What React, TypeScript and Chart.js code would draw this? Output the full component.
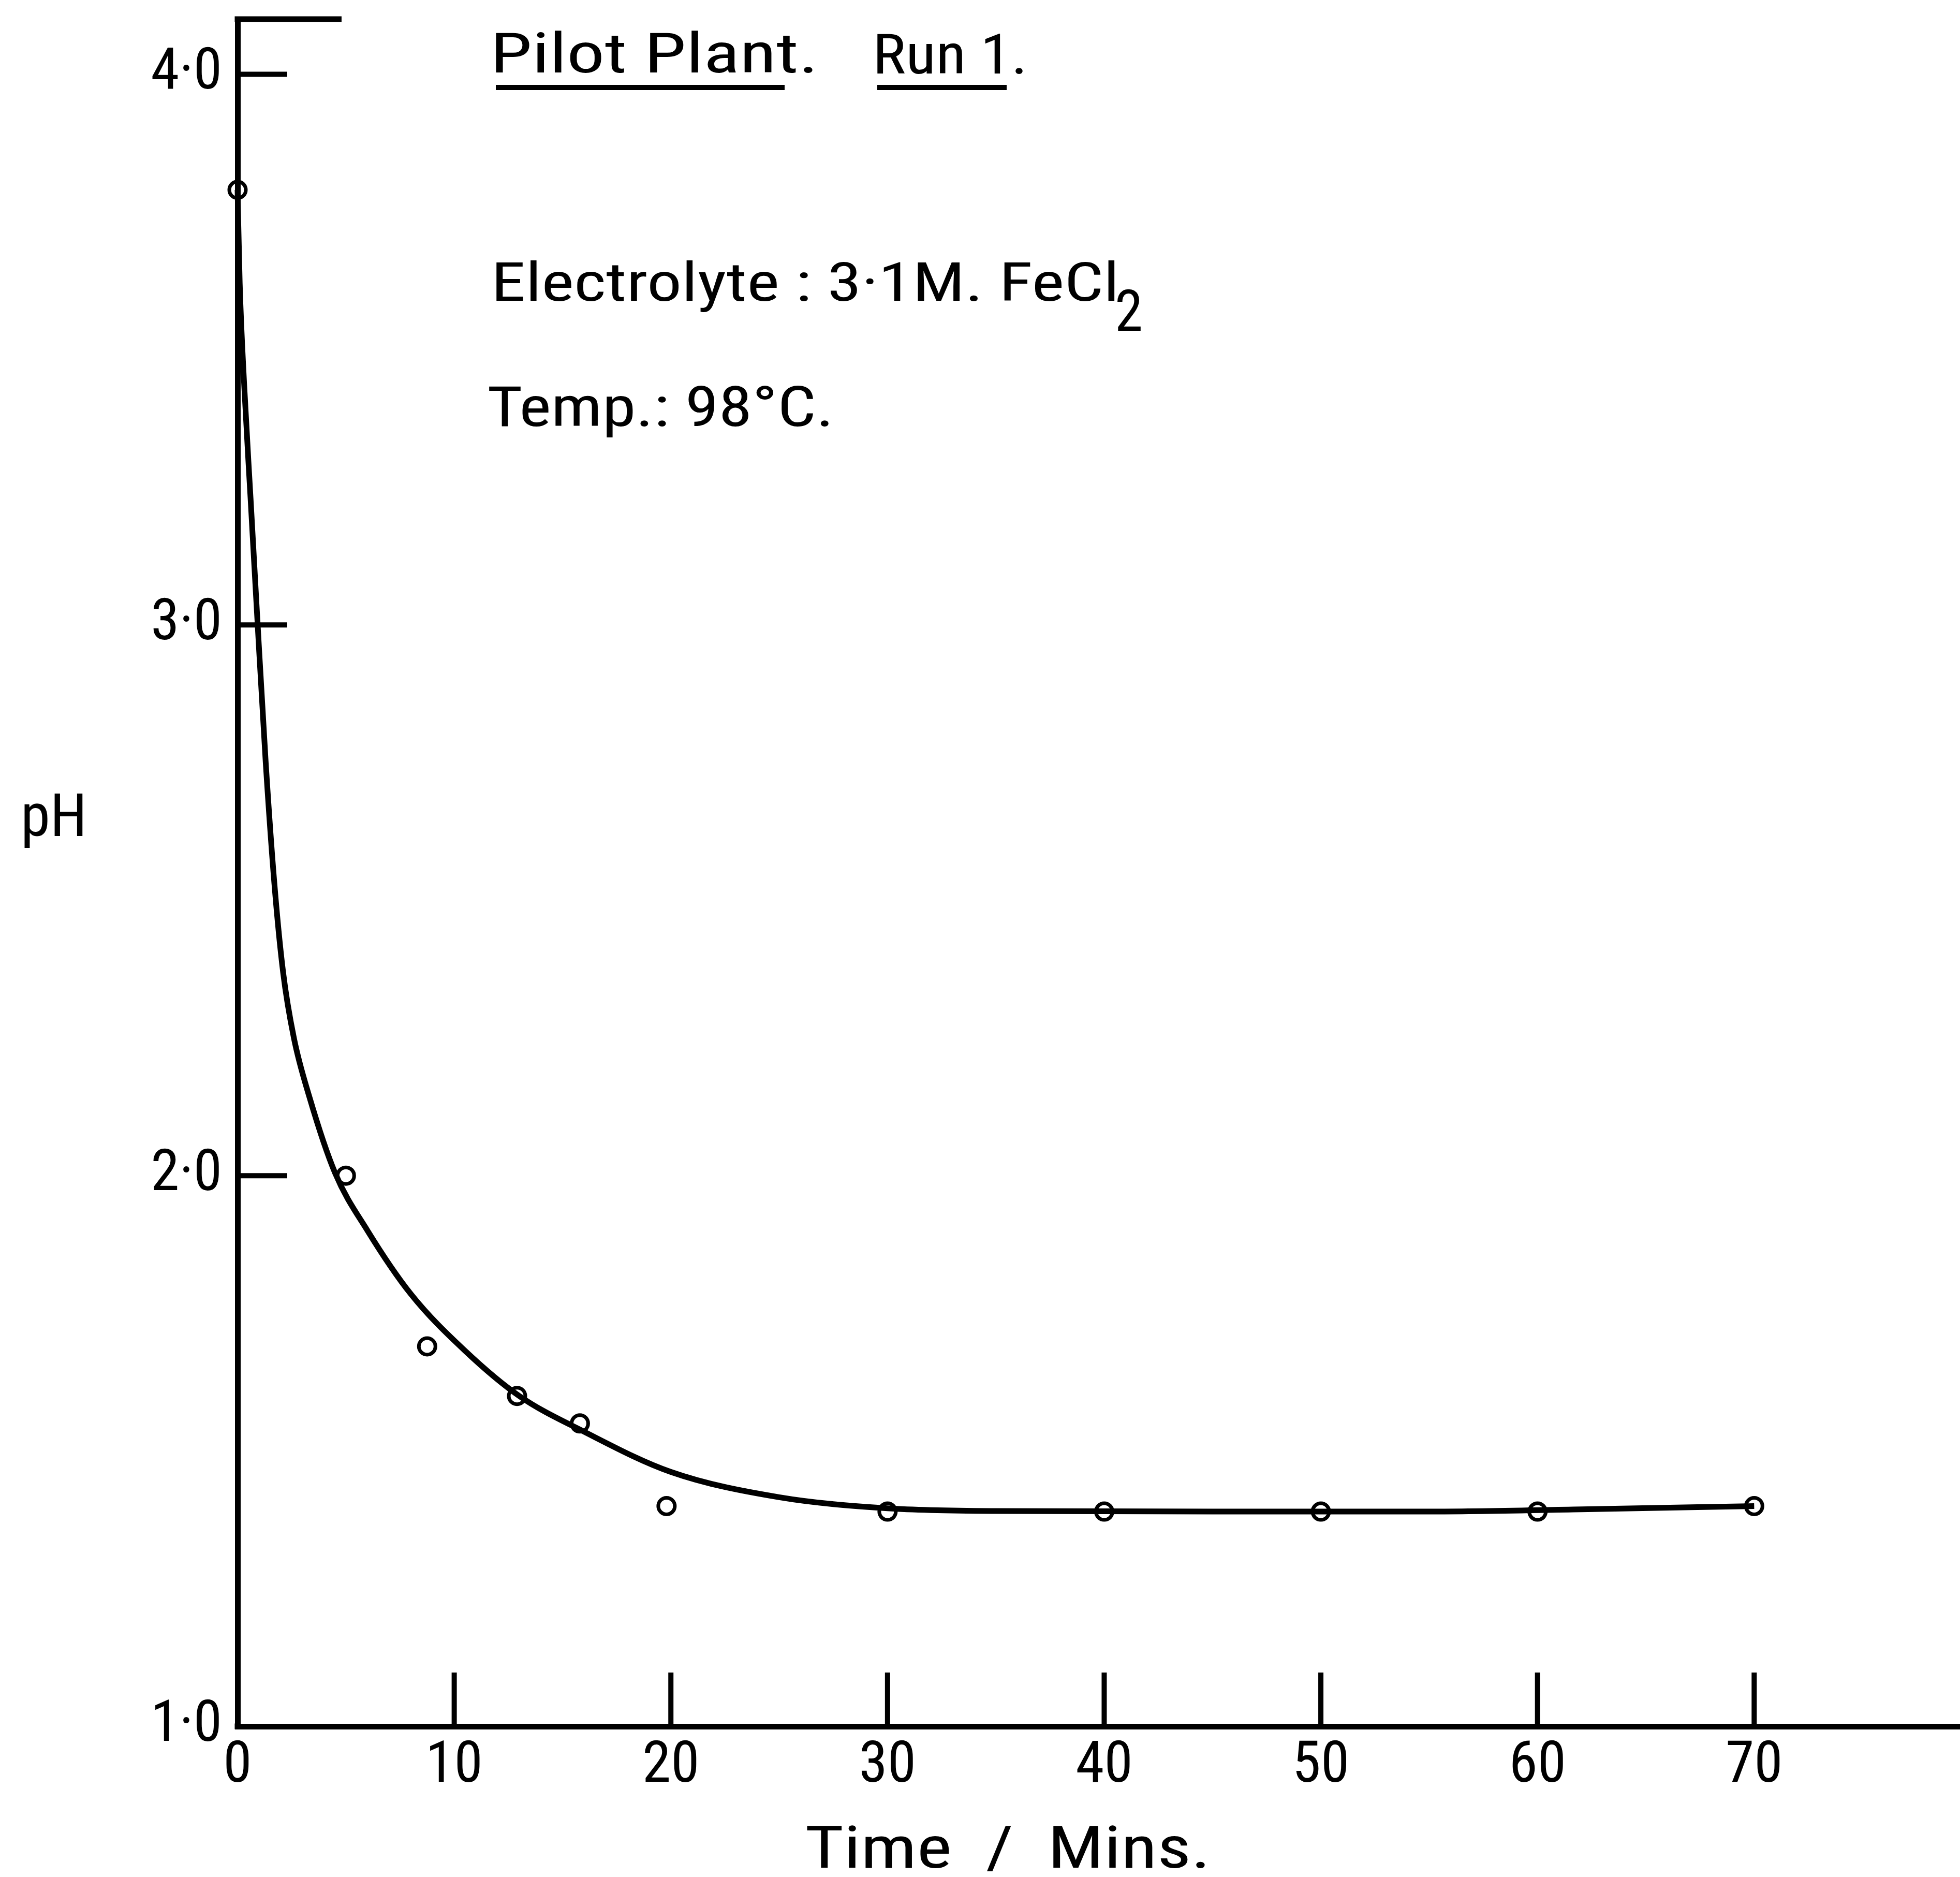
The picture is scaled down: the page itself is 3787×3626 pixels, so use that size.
import React, { useEffect, useRef } from 'react';
import { Chart, registerables } from 'chart.js';

Chart.register(...registerables);

// ---------------- data ----------------
const sampleTimes = [0, 5, 8.75, 12.9, 15.8, 19.8, 30, 40, 50, 60, 70];
const samplePH = [3.79, 2.0, 1.69, 1.6, 1.55, 1.4, 1.39, 1.39, 1.39, 1.39, 1.4];

const curveTimes = [0, 0.1, 0.3, 0.6, 0.9, 1.3, 1.7, 2.1, 2.6, 3.3, 4.5, 6.0, 8.0, 10.5, 13, 16, 20, 25, 30, 35, 45, 55, 62, 70];
const curvePH = [3.79, 3.62, 3.44, 3.23, 3.02, 2.75, 2.53, 2.37, 2.25, 2.145, 2.005, 1.9, 1.785, 1.682, 1.6, 1.535, 1.462, 1.416, 1.396, 1.391, 1.39, 1.39, 1.394, 1.4];

const xTickValues = [0, 10, 20, 30, 40, 50, 60, 70];
const xTickLabels = ['0', '10', '20', '30', '40', '50', '60', '70'];
const yTickValues = [1, 2, 3, 4];
const yTickLabels = ['1·0', '2·0', '3·0', '4·0'];

const titleText = 'Pilot Plant.';
const runText = 'Run 1.';
const electrolyteText = 'Electrolyte : 3·1M. FeCl';
const electrolyteSub = '2';
const tempText = 'Temp.: 98°C.';
const yAxisTitle = 'pH';
const xAxisTitle = 'Time  /  Mins.';

// ---------------- layout / style ----------------
const W = 3787;
const H = 3626;
const AREA_LEFT = 459;
const AREA_TOP = 37;
const AREA_BOTTOM = 3335;
const X_MIN = 0;
const X_MAX = 79.5;
const Y_MIN = 1;
const Y_MAX = 4.1;
const INK = '#000000';
const FONT = "'Roboto Condensed', 'DejaVu Sans Condensed', 'DejaVu Sans', sans-serif";

type TextItem = { text: string; x: number; y: number; w: number; size: number; underline?: { x2: number; y: number } };

const textLayout: TextItem[] = [
  { text: titleText, x: 958, y: 140, w: 612, size: 108, underline: { x2: 1516, y: 169 } },
  { text: runText, x: 1695, y: 142, w: 281, size: 108, underline: { x2: 1945, y: 169 } },
  { text: electrolyteText, x: 958, y: 581, w: 1196, size: 104 },
  { text: electrolyteSub, x: 2159, y: 639, w: 45, size: 112 },
  { text: tempText, x: 945, y: 823, w: 656, size: 108 },
  { text: yAxisTitle, x: 47, y: 1615, w: 113, size: 115 },
  { text: xAxisTitle, x: 1559, y: 3608, w: 769, size: 113 },
];

const decorPlugin = {
  id: 'decor',
  afterDraw(chart: any) {
    const { ctx, chartArea, scales } = chart;
    const xs = scales.x;
    const ys = scales.y;
    const line = (x1: number, y1: number, x2: number, y2: number) => {
      ctx.beginPath();
      ctx.moveTo(x1, y1);
      ctx.lineTo(x2, y2);
      ctx.stroke();
    };
    ctx.save();
    ctx.strokeStyle = INK;
    ctx.fillStyle = INK;
    ctx.lineCap = 'butt';
    // inward tick marks
    ctx.lineWidth = 10;
    for (const v of yTickValues) {
      if (v === Y_MIN) continue;
      const py = ys.getPixelForValue(v);
      line(chartArea.left, py, chartArea.left + 96, py);
    }
    for (const v of xTickValues) {
      if (v === X_MIN) continue;
      const px = xs.getPixelForValue(v);
      line(px, chartArea.bottom, px, chartArea.bottom - 104);
    }
    // top stub of the frame
    ctx.lineWidth = 11;
    line(chartArea.left - 5.5, chartArea.top, xs.getPixelForValue(4.8), chartArea.top);
    ctx.fillRect(chartArea.left - 5.5, chartArea.bottom - 5.5, 11, 11);
    // annotation texts
    ctx.textAlign = 'left';
    ctx.textBaseline = 'alphabetic';
    for (const t of textLayout) {
      ctx.font = `${t.size}px ${FONT}`;
      const m = ctx.measureText(t.text);
      const ink = m.actualBoundingBoxLeft + m.actualBoundingBoxRight;
      const sx = ink > 0 ? t.w / ink : 1;
      ctx.save();
      ctx.translate(t.x, t.y);
      ctx.scale(sx, 1);
      ctx.fillText(t.text, m.actualBoundingBoxLeft, 0);
      ctx.restore();
      if (t.underline) {
        ctx.lineWidth = 10;
        line(t.x, t.underline.y, t.underline.x2, t.underline.y);
      }
    }
    ctx.restore();
  },
};

const zeroPadding = (s: any) => {
  s.paddingTop = 0;
  s.paddingBottom = 0;
  s.paddingLeft = 0;
  s.paddingRight = 0;
};

export default function App() {
  const canvasRef = useRef<HTMLCanvasElement | null>(null);

  useEffect(() => {
    const canvas = canvasRef.current;
    if (!canvas) return;
    const chart = new Chart(canvas, {
      type: 'scatter',
      data: {
        datasets: [
          {
            label: 'fitted curve',
            data: curveTimes.map((t, i) => ({ x: t, y: curvePH[i] })),
            showLine: true,
            borderColor: INK,
            borderWidth: 11,
            pointRadius: 0,
            pointHoverRadius: 0,
            cubicInterpolationMode: 'monotone',
            fill: false,
            clip: false,
          } as any,
          {
            label: 'pH',
            data: sampleTimes.map((t, i) => ({ x: t, y: samplePH[i] })),
            showLine: false,
            pointStyle: 'circle',
            pointRadius: 16,
            pointHoverRadius: 16,
            pointBorderWidth: 7,
            pointBorderColor: INK,
            pointBackgroundColor: 'rgba(255,255,255,0)',
            clip: false,
          } as any,
        ],
      },
      options: {
        responsive: false,
        devicePixelRatio: 1,
        animation: false,
        events: [],
        layout: { autoPadding: false, padding: { top: AREA_TOP, left: 0, right: 0, bottom: 0 } },
        plugins: { legend: { display: false }, tooltip: { enabled: false }, title: { display: false } },
        scales: {
          x: {
            type: 'linear',
            min: X_MIN,
            max: X_MAX,
            afterBuildTicks: (s: any) => { s.ticks = xTickValues.map((v) => ({ value: v })); },
            afterFit: (s: any) => { s.height = H - AREA_BOTTOM; zeroPadding(s); },
            grid: { display: false, drawTicks: false },
            border: { display: true, color: INK, width: 11 },
            ticks: {
              color: INK,
              padding: 12,
              maxRotation: 0,
              autoSkip: false,
              font: { family: FONT, size: 112 },
              callback: (v: any) => xTickLabels[xTickValues.indexOf(Number(v))] ?? '',
            },
          },
          y: {
            type: 'linear',
            min: Y_MIN,
            max: Y_MAX,
            afterBuildTicks: (s: any) => { s.ticks = yTickValues.map((v) => ({ value: v })); },
            afterFit: (s: any) => { s.width = AREA_LEFT; zeroPadding(s); },
            grid: { display: false, drawTicks: false },
            border: { display: true, color: INK, width: 11 },
            ticks: {
              color: INK,
              padding: 30,
              autoSkip: false,
              font: { family: FONT, size: 112 },
              callback: (v: any) => yTickLabels[yTickValues.indexOf(Number(v))] ?? '',
            },
          },
        },
      } as any,
      plugins: [decorPlugin],
    });
    return () => chart.destroy();
  }, []);

  return (
    <div style={{ position: 'fixed', left: 0, top: 0, width: W, height: H, background: '#ffffff' }}>
      <canvas ref={canvasRef} width={W} height={H} style={{ display: 'block', width: W, height: H }} />
    </div>
  );
}
